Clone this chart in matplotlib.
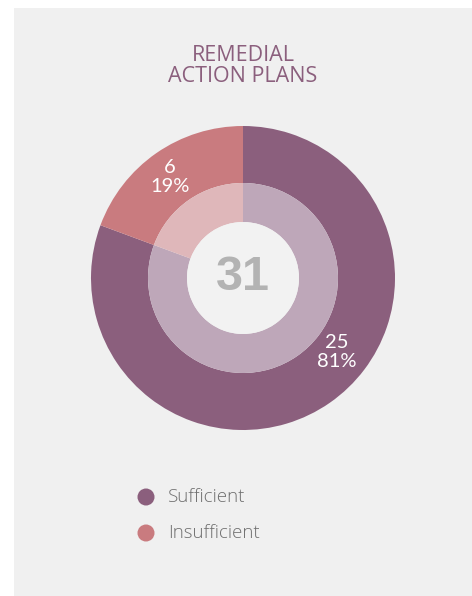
import matplotlib.pyplot as plt
from matplotlib.patches import Rectangle, Circle

# data
labels = ['Sufficient', 'Insufficient']
counts = [25, 6]
outer_colors = ['#8b5f7d', '#c97b7f']
inner_colors = ['#bea7b9', '#dfb7ba']
title = 'REMEDIAL\nACTION PLANS'

W, H = 472, 596
fig = plt.figure(figsize=(W / 100, H / 100), dpi=100, facecolor='white')
ax = fig.add_axes([0, 0, 1, 1])

# grey panel
ax.add_patch(Rectangle((14, 0), W - 14, H - 8, facecolor='#f0f0f0',
                       edgecolor='none', zorder=-5))

cx, cy = 243, H - 278
total = sum(counts)

ax.pie(counts, radius=152, center=(cx, cy), startangle=90, counterclock=False,
       colors=outer_colors, wedgeprops=dict(width=57, edgecolor='none'))
ax.pie(counts, radius=95, center=(cx, cy), startangle=90, counterclock=False,
       colors=inner_colors, wedgeprops=dict(width=39, edgecolor='none'))
ax.add_patch(Circle((cx, cy), 56, facecolor='#f2f2f2', edgecolor='none', zorder=3))

ax.text(cx, cy + 1, str(total), ha='center', va='center', fontsize=35,
        fontweight='bold', color='#b3b3b3',
        family=['Liberation Sans Narrow', 'Liberation Sans'], zorder=4)

pct = [round(100 * c / total) for c in counts]
label_pos = [(337, H - 352), (170, H - 177)]
for (x, y), c, p in zip(label_pos, counts, pct):
    ax.text(x, y, f'{c}\n{p}%', ha='center', va='center', fontsize=14.5,
            color='white', family='Lato', linespacing=1.1, zorder=4)

ax.text(cx, H - 66, title, ha='center', va='center', fontsize=15.5,
        color='#8b5f7d', family='Open Sans', fontweight='medium', linespacing=1.05)

# legend
for i, (lab, col) in enumerate(zip(labels, outer_colors)):
    y = H - (497 + 36 * i)
    ax.scatter([146], [y], s=150, color=col, edgecolor='none')
    ax.text(168, y, lab, ha='left', va='center', fontsize=13.5, color='#707070',
            family='Open Sans', fontweight='light')

ax.set_xlim(0, W)
ax.set_ylim(0, H)
ax.set_aspect('auto')
ax.axis('off')

fig.savefig('out.png', dpi=100, facecolor='white')
